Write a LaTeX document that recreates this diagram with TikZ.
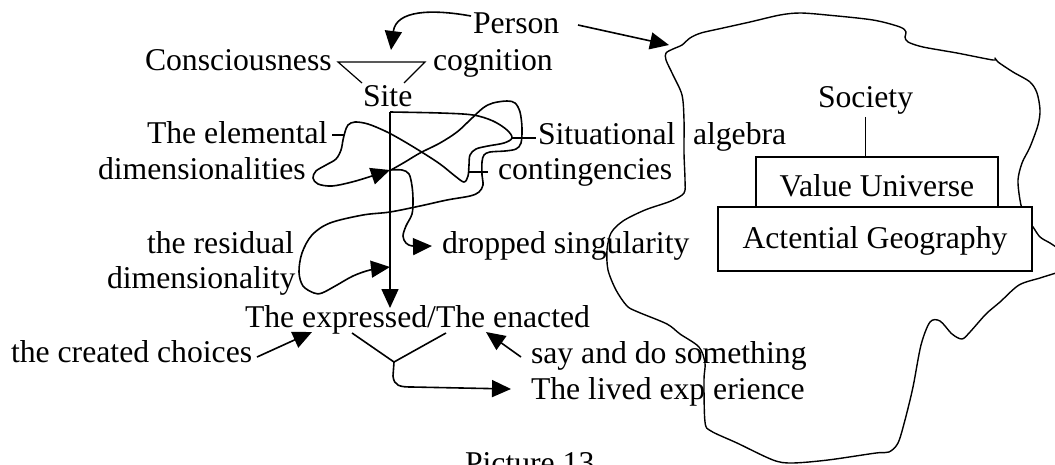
\documentclass[tikz,border=0pt]{standalone}
\usepackage{fontspec}
\setmainfont{Liberation Serif}
\usetikzlibrary{arrows.meta}
\begin{document}
\begin{tikzpicture}[x=1pt,y=-1pt,
  lbl/.style={inner sep=0pt, outer sep=0pt, anchor=base west, font=\fontsize{31.7}{38}\selectfont},
  ln/.style={line width=1.6pt, line join=round},
  thinln/.style={line width=1.2pt},
  blobln/.style={line width=1.4pt, line join=round},
  tip/.style={-{Triangle[length=19pt,width=17pt]}},
  boxn/.style={draw, line width=1.4pt, fill=white, inner sep=0pt, font=\fontsize{31.7}{38}\selectfont},
  ]
\useasboundingbox (0,0) rectangle (1055,464);

% blob
\draw[blobln] plot[smooth, tension=0.5] coordinates {
 (1056,273) (1040,278) (1019,285) (1000,302) (986,314) (970,332) (962,339) (952,334) (940,321) (930,322)
 (921,345) (913,387) (905,420) (898,443) (889,452) (876,453) (828,460) (792,463) (773,460)
 (737,443) (711,431) (705,422) (704,380) (705,363) (699,347) (680,334) (667,324) (638,312)
 (627,306) (616,290) (608,270) (607,250) (611,233) (623,221) (645,210) (671,201) (684,193)
 (685,180) (684,153) (684,120) (682,95) (673,75) (666,60) (666,53) (673,49) (682,45) (690,38)
 (701,33) (723,28) (750,22) (780,15) (800,13) (827,15) (873,20) (900,27) (906,32) (905,37)
 (908,42) (923,47) (957,53) (993,60) (995,58) (998,62) (1013,72) (1030,82) (1037,93)
 (1040,110) (1038,125) (1030,147) (1022,163) (1018,180) (1020,200) (1024,215) (1033,227)
 (1040,237) (1050,243) (1056,247)};

% text
\node[lbl] (person) at (473,33) {Person};
\node[lbl] (consc) at (145,70) {Consciousness};
\node[lbl] (cogn) at (433,70) {cognition};
\node[lbl] (site) at (363,106) {Site};
\node[lbl] (elem) at (147,143) {The elemental};
\node[lbl] (dims) at (98,179) {dimensionalities};
\node[lbl] (situ) at (538,144) {Situational};
\node[lbl] (alg) at (693,144) {algebra};
\node[lbl] (cont) at (498,179) {contingencies};
\node[lbl] (resid) at (147,253) {the residual};
\node[lbl] (dimone) at (107,288) {dimensionality};
\node[lbl] (drop) at (442,253) {dropped singularity};
\node[lbl] (expr) at (245,327) {The expressed/The enacted};
\node[lbl] (created) at (11,362) {the created choices};
\node[lbl] (say) at (531,363) {say and do something};
\node[lbl] (lived) at (531,399) {The lived exp erience};
\node[lbl] (society) at (818,107) {Society};
\node[lbl] (caption) at (465,473) {Picture 13};

% boxes
\node[boxn, minimum width=242pt, minimum height=50pt, text height=28pt, text depth=0pt] (value) at (877,182) {Value Universe};
\node[boxn, minimum width=314pt, minimum height=64pt, text height=24pt, text depth=6pt] (actential) at (875,239) {Actential Geography};
\draw[ln] ([yshift=-3pt]society.south) -- (society.south |- value.north);

% coordinates
\coordinate (pstart) at (471,16);
\coordinate (sitetip) at (391,50);
\coordinate (pblob) at (578,25);
\coordinate (blobtip) at (669,45);
\coordinate (trl) at (338,62);
\coordinate (trr) at (425,62);
\coordinate (trbl) at (362,83);
\coordinate (trbr) at (404,83);
\coordinate (vtop) at (390,112);
\coordinate (vbot) at (390,308);
\coordinate (forkl) at (352,333);
\coordinate (forkr) at (446,333);
\coordinate (fork) at (394,362);
\coordinate (livedtip) at (511,389);
\coordinate (crs) at (257,357);
\coordinate (crt) at (312,332);
\coordinate (sys) at (521,357);
\coordinate (syt) at (486,332);

% Person arrows
\draw[ln,tip] (pstart) .. controls (432,9) and (396,10) .. (sitetip);
\draw[ln,tip] (pblob) -- (blobtip);

% trapezoid
\draw[thinln] (trbl) -- (trl) -- (trr) -- (trbr);

% main vertical
\draw[ln,tip] (vtop) -- (vbot);

% ticks
\draw[thinln] (332,135) -- (344,135);
\draw[thinln] (512,138) -- (536,138);
\draw[thinln] (469,172) -- (488,172);

% loop L1 (bracket from Site)
\draw[ln,tip] plot[smooth, tension=0.55] coordinates {
 (390,112) (440,113) (473,115) (493,121) (507,130) (512,138) (504,143) (488,146) (476,149)
 (470,155) (469,165) (468,176) (464,182) (455,176) (440,164) (420,151) (400,139) (385,131)
 (368,124) (355,122) (348,125) (345,132) (343,140) (341,150) (336,159) (326,165) (316,171)
 (313,178) (318,184) (332,186) (352,182) (372,176) (390,170)};

% loop L2 (residual)
\draw[ln,tip] plot[smooth, tension=0.55] coordinates {
 (391,170) (405,162) (420,153) (440,143) (457,132) (470,120) (483,108) (493,103) (507,101)
 (515,103) (520,112) (522,128) (521,143) (516,149) (505,151) (490,152) (484,155) (482,162)
 (482,175) (483,185) (479,192) (470,196) (447,200) (420,206) (390,212) (363,215) (330,223)
 (312,235) (302,253) (299,272) (303,286) (314,293) (322,293) (337,285) (353,276) (370,270) (390,267)};

% dropped singularity
\draw[ln,tip] plot[smooth, tension=0.55] coordinates {
 (390,170) (402,170) (409,174) (412,186) (413,200) (412,214) (406,226) (403,236) (406,243) (413,246) (432,246)};

% fork
\draw[ln] (forkl) -- (fork) -- (forkr);
\draw[ln,tip] (fork) -- (393,376) .. controls (394,386) and (400,387) .. (412,387) -- (livedtip);

% side arrows
\draw[ln,tip] (crs) -- (crt);
\draw[ln,tip] (sys) -- (syt);
\end{tikzpicture}
\end{document}
